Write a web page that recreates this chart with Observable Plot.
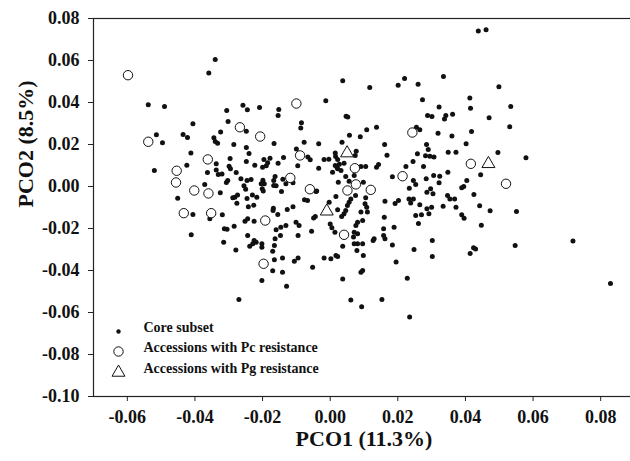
<!DOCTYPE html>
<html>
<head>
<meta charset="utf-8">
<script src="https://cdn.jsdelivr.net/npm/d3@7"></script>
<script src="https://cdn.jsdelivr.net/npm/@observablehq/plot@0.6"></script>
<style>
  html, body { margin: 0; padding: 0; background: #fff; overflow: hidden; }
  #chart svg { display: block; }
</style>
</head>
<body>
<div id="chart"></div>
<script>
const xTitle = "PCO1 (11.3%)";
const yTitle = "PCO2 (8.5%)";
const xTicks = [-0.06, -0.04, -0.02, 0.00, 0.02, 0.04, 0.06, 0.08];
const yTicks = [-0.10, -0.08, -0.06, -0.04, -0.02, 0.00, 0.02, 0.04, 0.06, 0.08];
const legendLabels = ["Core subset", "Accessions with Pc resistance", "Accessions with Pg resistance"];

// Core subset (filled dots)
const core = [
[-0.0340,0.0605],[-0.0359,0.0541],[0.0037,0.0503],[0.0438,0.0740],[0.0461,0.0746],
[-0.0538,0.0389],[-0.0490,0.0381],[-0.0013,0.0408],
[-0.0306,0.0362],[-0.0258,0.0387],[-0.0245,0.0365],[-0.0209,0.0376],[-0.0152,0.0367],[-0.0154,0.0338],[0.0047,0.0335],[0.0052,0.0331],
[-0.0302,0.0310],[-0.0406,0.0299],[-0.0324,0.0260],[-0.0248,0.0263],[-0.0085,0.0303],[-0.0087,0.0278],[0.0057,0.0244],[0.0089,0.0237],
[-0.0514,0.0246],[-0.0496,0.0208],[-0.0435,0.0248],[-0.0422,0.0233],[-0.0344,0.0232],[-0.0340,0.0214],[-0.0333,0.0206],[-0.0285,0.0200],[-0.0248,0.0186],[-0.0166,0.0205],[-0.0077,0.0211],[-0.0034,0.0203],[0.0035,0.0211],
[-0.0412,0.0160],[-0.0240,0.0157],[-0.0100,0.0178],[0.0077,0.0168],[0.0074,0.0148],
[-0.0296,0.0133],[-0.0248,0.0119],[-0.0196,0.0129],[-0.0178,0.0135],[-0.0138,0.0138],[-0.0066,0.0140],[-0.0059,0.0127],[-0.0018,0.0129],[-0.0004,0.0130],[0.0016,0.0143],[0.0022,0.0129],[0.0015,0.0159],
[0.0015,0.0100],[0.0027,0.0106],[0.0041,0.0111],[0.0022,0.0084],[0.0007,0.0068],[0.0032,0.0076],[0.0020,0.0092],
[-0.0520,0.0076],[-0.0424,0.0101],[-0.0337,0.0108],[-0.0363,0.0067],[-0.0337,0.0078],[-0.0331,0.0057],[-0.0320,0.0060],[-0.0299,0.0097],[-0.0295,0.0084],[-0.0278,0.0067],[-0.0303,0.0029],[-0.0307,0.0019],
[-0.0223,0.0101],[-0.0200,0.0092],[-0.0189,0.0099],[-0.0185,0.0113],[-0.0154,0.0111],[-0.0096,0.0099],[-0.0034,0.0087],
[-0.0264,0.0037],[-0.0246,0.0029],[-0.0234,0.0033],[-0.0199,0.0030],[-0.0195,0.0013],[-0.0163,0.0048],[-0.0167,0.0029],[-0.0140,0.0035],
[-0.0371,0.0010],[-0.0325,-0.0030],[-0.0451,-0.0056],[-0.0282,-0.0051],[-0.0276,-0.0080],[-0.0255,0.0003],[-0.0250,-0.0013],[-0.0246,-0.0057],[-0.0230,-0.0041],[-0.0217,-0.0051],[-0.0204,0.0013],[-0.0201,-0.0011],[-0.0198,-0.0022],[-0.0167,0.0005],[-0.0160,0.0003],[-0.0144,-0.0024],[-0.0110,0.0018],[-0.0042,-0.0024],[-0.0076,-0.0063],[-0.0067,-0.0067],
[-0.0226,-0.0089],[-0.0168,-0.0103],[-0.0127,-0.0110],[-0.0110,-0.0097],[-0.0242,-0.0097],[-0.0288,-0.0054],[-0.0274,-0.0040],
[0.0024,0.0020],[0.0017,-0.0048],[0.0061,-0.0059],[0.0056,-0.0075],[0.0051,-0.0090],[-0.0003,-0.0075],[-0.0131,0.0013],[-0.0040,-0.0022],[0.0075,-0.0043],
[0.0046,0.0048],[0.0056,0.0025],[0.0071,0.0052],[0.0098,0.0020],[0.0184,0.0046],[0.0091,0.0095],[0.0105,0.0095],[0.0143,0.0105],[0.0137,0.0092],
[0.0105,-0.0054],[0.0103,-0.0082],[0.0108,-0.0099],[0.0110,-0.0122],[0.0162,-0.0070],[0.0192,-0.0081],
[-0.0044,-0.0143],[-0.0049,-0.0150],[0.0022,-0.0111],[0.0046,-0.0114],[0.0041,-0.0130],[0.0034,-0.0143],[0.0091,-0.0122],[0.0081,-0.0170],[0.0076,-0.0186],[0.0096,-0.0162],[0.0160,-0.0146],[-0.0131,-0.0186],[-0.0101,-0.0170],[-0.0092,-0.0186],[-0.0055,-0.0213],[0.0000,-0.0178],[0.0005,-0.0197],[0.0014,-0.0218],[0.0071,-0.0218],[0.0081,-0.0225],[0.0069,-0.0241],[0.0158,-0.0201],[0.0162,-0.0249],[0.0130,-0.0249],[0.0189,-0.0194],
[0.0117,0.0471],[0.0201,0.0482],[0.0220,0.0514],[0.0260,0.0487],[0.0335,0.0524],[0.0499,0.0475],[0.0273,0.0413],[0.0322,0.0378],[0.0413,0.0422],[0.0415,0.0373],[0.0534,0.0381],[0.0288,0.0338],[0.0301,0.0333],[0.0342,0.0338],[0.0338,0.0322],[0.0362,0.0344],[0.0470,0.0327],[0.0137,0.0282],[0.0108,0.0270],[0.0255,0.0282],[0.0265,0.0270],[0.0319,0.0254],[0.0360,0.0240],[0.0418,0.0262],[0.0531,0.0284],[0.0161,0.0200],[0.0285,0.0200],[0.0290,0.0176],[0.0402,0.0203],[0.0168,0.0149],[0.0258,0.0156],[0.0282,0.0146],[0.0295,0.0144],[0.0307,0.0141],[0.0349,0.0163],[0.0372,0.0163],[0.0496,0.0162],[0.0579,0.0137],[0.0445,0.0056],[0.0404,0.0029],[0.0395,0.0000],[0.0389,-0.0006],[0.0348,0.0068],[0.0324,0.0049],[0.0322,0.0018],[0.0306,0.0052],[0.0284,0.0037],[0.0276,0.0095],[0.0245,0.0119],[0.0224,0.0095],[0.0246,0.0029],[0.0253,0.0010],[0.0234,-0.0008],[0.0297,-0.0011],
[0.0202,-0.0067],[0.0233,-0.0059],[0.0246,-0.0059],[0.0238,-0.0078],[0.0265,-0.0087],[0.0286,-0.0027],[0.0304,-0.0035],[0.0286,-0.0106],[0.0300,-0.0099],[0.0270,-0.0135],[0.0292,-0.0130],[0.0261,-0.0176],[0.0334,-0.0094],[0.0347,-0.0043],[0.0354,-0.0059],[0.0368,-0.0059],[0.0372,-0.0099],[0.0389,-0.0135],[0.0396,-0.0151],[0.0425,-0.0038],[0.0442,-0.0092],[0.0473,-0.0116],[0.0447,-0.0184],[0.0551,-0.0119],[0.0127,-0.0257],[0.0158,-0.0233],[0.0184,-0.0278],[0.0195,-0.0359],[0.0228,-0.0437],[0.0235,-0.0622],[0.0302,-0.0257],[0.0302,-0.0333],[0.0248,-0.0300],[0.0253,-0.0138],[0.0414,-0.0319],[0.0424,-0.0292],[0.0430,-0.0298],[0.0547,-0.0281],[0.0718,-0.0259],[0.0829,-0.0462],[0.0037,-0.0441],[0.0061,-0.0540],[0.0093,-0.0573],[0.0153,-0.0538],[0.0091,-0.0408],[0.0096,-0.0400],[0.0098,-0.0329],[0.0079,-0.0305],[0.0071,-0.0273],[0.0081,-0.0273],[0.0096,-0.0273],[0.0037,-0.0284],[0.0017,-0.0329],[0.0022,-0.0333],[0.0002,-0.0344],
[-0.0406,-0.0133],[-0.0356,-0.0154],[-0.0319,-0.0135],[-0.0411,-0.0230],[-0.0315,-0.0265],[-0.0279,-0.0302],[-0.0270,-0.0538],[-0.0313,-0.0201],[-0.0305,-0.0203],[-0.0284,-0.0189],[-0.0252,-0.0165],[-0.0244,-0.0154],[-0.0225,-0.0165],[-0.0244,-0.0233],[-0.0225,-0.0257],[-0.0219,-0.0265],[-0.0229,-0.0273],[-0.0238,-0.0284],[-0.0202,-0.0273],[-0.0202,-0.0289],[-0.0202,-0.0448],[-0.0169,-0.0114],[-0.0155,-0.0133],[-0.0160,-0.0206],[-0.0146,-0.0194],[-0.0147,-0.0233],[-0.0163,-0.0249],[-0.0165,-0.0281],[-0.0170,-0.0308],[-0.0165,-0.0349],[-0.0141,-0.0340],[-0.0170,-0.0401],[-0.0141,-0.0408],[-0.0129,-0.0475],[-0.0106,-0.0356],[-0.0095,-0.0340],[-0.0095,-0.0233],[-0.0052,-0.0384],[-0.0018,-0.0341]
];

// Accessions with Pc resistance (open circles)
const pcResistance = [
[-0.0598,0.0530],[-0.0100,0.0395],[-0.0267,0.0282],[-0.0207,0.0238],[-0.0538,0.0213],[-0.0362,0.0129],[-0.0089,0.0148],[0.0073,0.0087],[-0.0454,0.0075],[-0.0118,0.0041],[-0.0456,0.0019],[-0.0402,-0.0019],[-0.0360,-0.0033],[-0.0060,-0.0013],[0.0076,0.0010],[0.0051,-0.0019],[0.0120,-0.0016],[-0.0433,-0.0127],[-0.0352,-0.0127],[-0.0192,-0.0162],[-0.0197,-0.0368],[0.0041,-0.0230],[0.0243,0.0257],[0.0416,0.0108],[0.0520,0.0013],[0.0214,0.0049]
];

// Accessions with Pg resistance (open triangles)
const pgResistance = [
[0.0050,0.0159],[-0.0010,-0.0118],[0.0468,0.0108]
];

const ink = "#111";
const fmt = d => d.toFixed(2);
const legendStyles = [
  {symbol: "circle", r: 2.2, fill: ink, stroke: "none"},
  {symbol: "circle", r: 4.7, fill: "white", stroke: ink},
  {symbol: "triangle", r: 4.8, fill: "white", stroke: ink}
];
const legendRowDy = [-65, -45, -24];

const legendMarks = legendLabels.flatMap((label, i) => [
  Plot.dot([label], {frameAnchor: "bottom-left", dx: 25, dy: legendRowDy[i], ...legendStyles[i], strokeWidth: 1}),
  Plot.text([label], {frameAnchor: "bottom-left", dx: 50, dy: legendRowDy[i], text: d => d, textAnchor: "start", fontSize: 14, fontWeight: "bold", fill: ink})
]);

const chart = Plot.plot({
  width: 630,
  height: 461,
  marginLeft: 93,
  marginRight: -4,
  marginTop: 18,
  marginBottom: 65,
  style: {fontFamily: "'Liberation Serif', 'Times New Roman', serif", background: "#fff", color: ink},
  x: {domain: [-0.07, 0.09]},
  y: {domain: [-0.10, 0.08]},
  marks: [
    Plot.frame({stroke: "#222", strokeWidth: 1.2}),
    Plot.axisX({ticks: xTicks, tickFormat: fmt, tickSize: 5, tickPadding: 9, fontSize: 18, fontWeight: "bold", label: null, stroke: "#222"}),
    Plot.axisY({ticks: yTicks, tickFormat: fmt, tickSize: 5, tickPadding: 9, fontSize: 18, fontWeight: "bold", label: null, stroke: "#222"}),
    Plot.text([xTitle], {frameAnchor: "bottom", dy: 49, text: d => d, fontSize: 22, fontWeight: "bold", fill: ink}),
    Plot.text([yTitle], {frameAnchor: "left", dx: -68, rotate: -90, text: d => d, fontSize: 22, fontWeight: "bold", fill: ink}),
    Plot.dot(core, {x: d => d[0], y: d => d[1], r: 2.5, fill: ink, stroke: "none"}),
    Plot.dot(pcResistance, {x: d => d[0], y: d => d[1], r: 4.7, fill: "white", stroke: ink, strokeWidth: 1}),
    Plot.dot(pgResistance, {x: d => d[0], y: d => d[1], symbol: "triangle", r: 4.8, fill: "white", stroke: ink, strokeWidth: 1}),
    ...legendMarks
  ]
});
document.getElementById("chart").append(chart);
</script>
</body>
</html>
